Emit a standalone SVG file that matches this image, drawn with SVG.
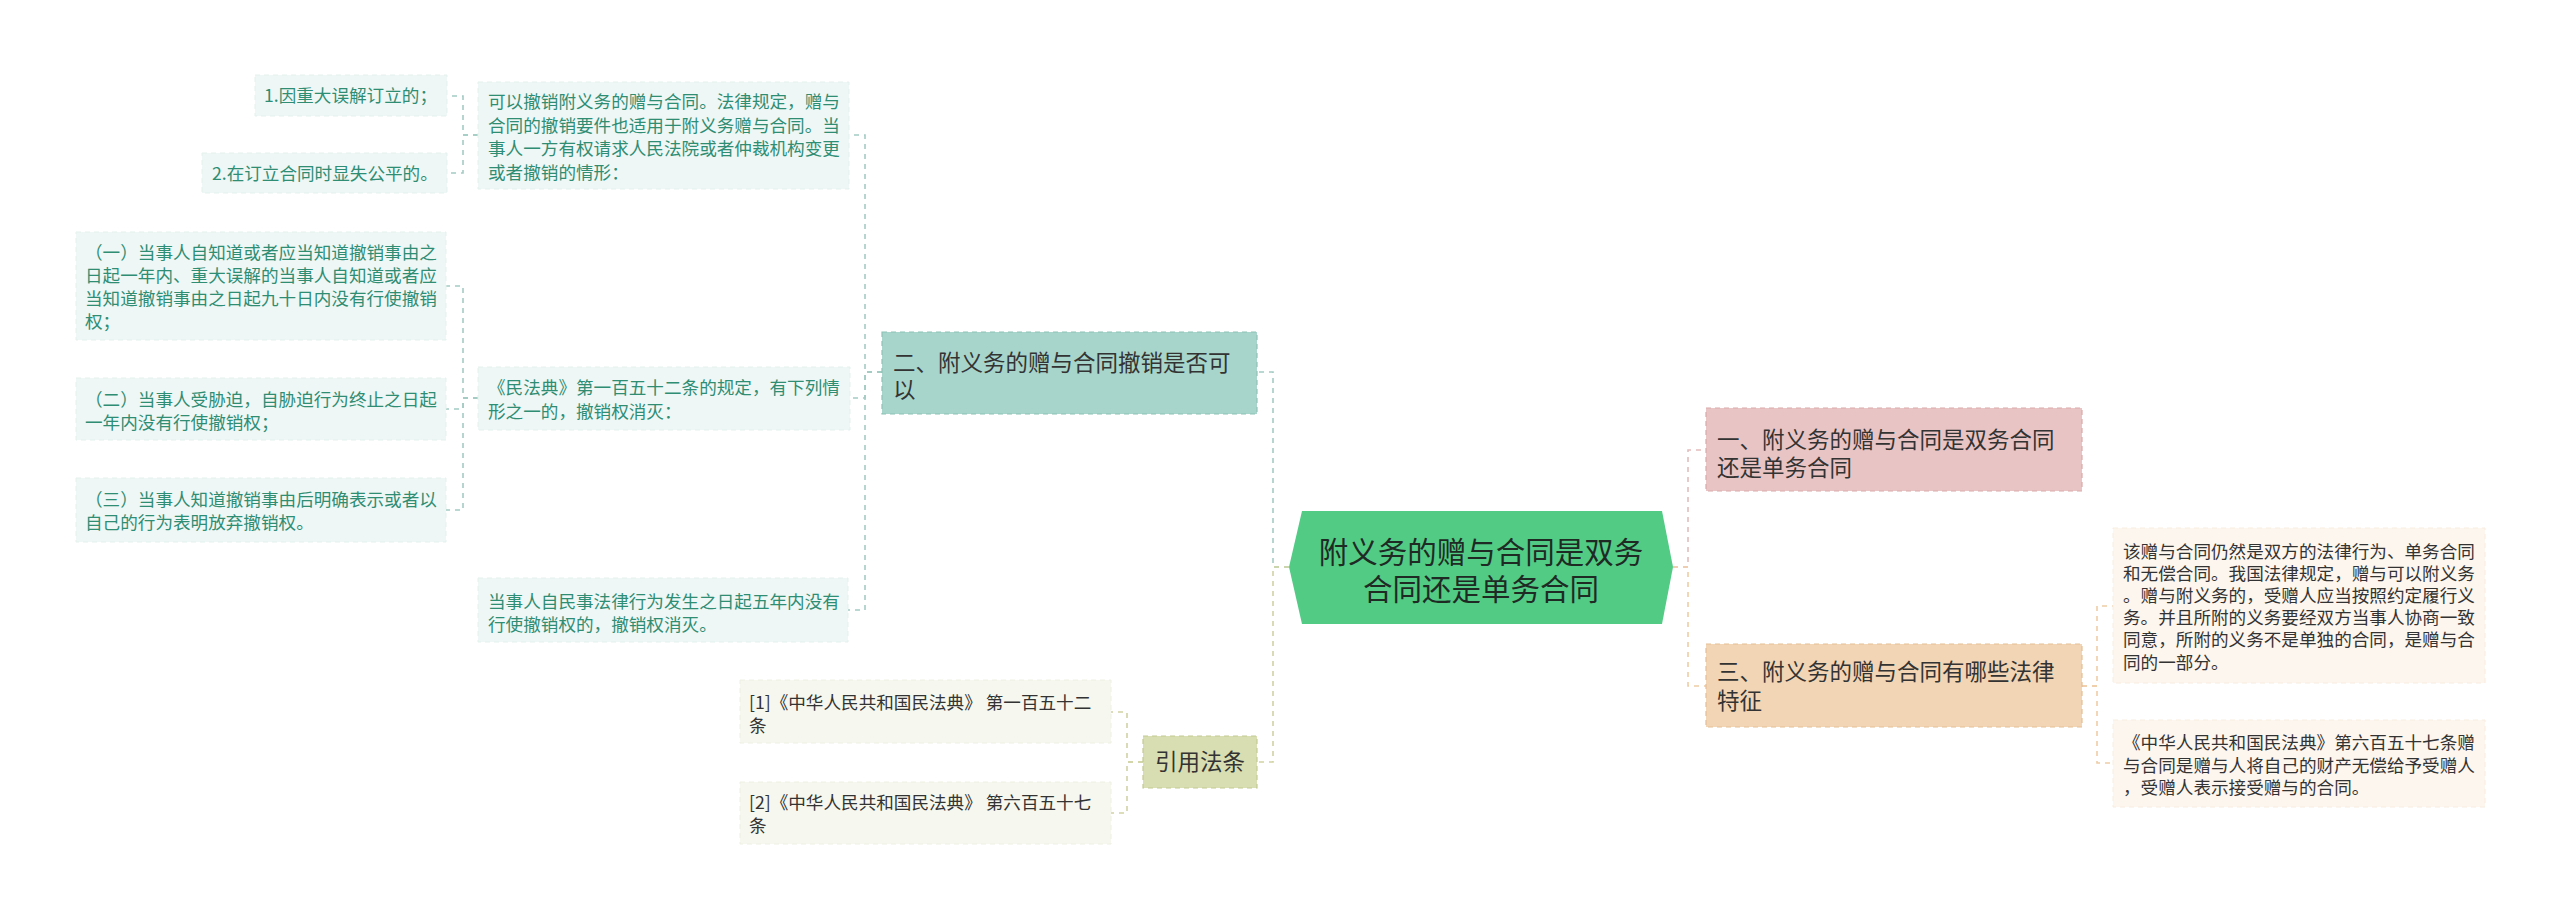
<svg xmlns="http://www.w3.org/2000/svg" width="2560" height="920" viewBox="0 0 2560 920">
<style>
text{font-family:"Noto Sans CJK SC","Noto Sans",sans-serif;}
.c{font-size:17.6px;}
.tc{fill:#2f8d73;}
.dk{fill:#333333;}
.l1{font-size:22.5px;fill:#333333;}
.conn{fill:none;stroke-width:1.6;stroke-dasharray:5 5;}
.teal{stroke:#a3cbc2;}
.kh{stroke:#cfd3a3;}
.pk{stroke:#e3bcbc;}
.or{stroke:#efcda6;}
</style>
<rect width="2560" height="920" fill="#ffffff"/>
<g id="connectors">
<path class="conn teal" d="M1289,567 H1273 V372 H1257"/>
<path class="conn teal" d="M882,372 H865 V135 H849"/>
<path class="conn teal" d="M882,372 H865 V398 H850"/>
<path class="conn teal" d="M882,372 H865 V610 H848"/>
<path class="conn teal" d="M478,135 H463 V96 H447"/>
<path class="conn teal" d="M478,135 H463 V173 H447"/>
<path class="conn teal" d="M478,398 H463 V286 H446"/>
<path class="conn teal" d="M478,398 H463 V409 H446"/>
<path class="conn teal" d="M478,398 H463 V510 H446"/>
<path class="conn kh" d="M1289,567 H1273 V762 H1257"/>
<path class="conn kh" d="M1143,762 H1127 V712 H1111"/>
<path class="conn kh" d="M1143,762 H1127 V813 H1111"/>
<path class="conn pk" d="M1673,567 H1688 V450 H1706"/>
<path class="conn or" d="M1673,567 H1688 V686 H1706"/>
<path class="conn or" d="M2082,686 H2097 V606 H2113"/>
<path class="conn or" d="M2082,686 H2097 V763 H2113"/>
</g>
<g id="center">
<polygon points="1289,567 1302,511 1662,511 1673,567 1662,624 1302,624" fill="#52cb85"/>
<text x="1481" y="563" text-anchor="middle" font-size="29.5" fill="#1f2a24">附义务的赠与合同是双务</text>
<text x="1481" y="600" text-anchor="middle" font-size="29.5" fill="#1f2a24">合同还是单务合同</text>
</g>
<g id="n-er">
<rect x="882" y="332" width="375" height="82" fill="#a7d5cc" stroke="#8dc2b6" stroke-width="1.2" stroke-dasharray="5 4"/>
<text class="l1" x="893" y="371">二、附义务的赠与合同撤销是否可</text>
<text class="l1" x="893" y="398">以</text>
</g>
<g id="n-c1">
<rect x="478" y="82" width="371" height="107" fill="#eef7f5" stroke="#e3f1ed" stroke-dasharray="5 4"/>
<text class="c tc" x="488" y="108">可以撤销附义务的赠与合同。法律规定，赠与</text>
<text class="c tc" x="488" y="131.5">合同的撤销要件也适用于附义务赠与合同。当</text>
<text class="c tc" x="488" y="155">事人一方有权请求人民法院或者仲裁机构变更</text>
<text class="c tc" x="488" y="178.5">或者撤销的情形：</text>
</g>
<g id="n-a1">
<rect x="255" y="75" width="192" height="41" fill="#eef7f5" stroke="#e3f1ed" stroke-dasharray="5 4"/>
<text class="c tc" x="264" y="102">1.因重大误解订立的；</text>
</g>
<g id="n-a2">
<rect x="202" y="153" width="245" height="40" fill="#eef7f5" stroke="#e3f1ed" stroke-dasharray="5 4"/>
<text class="c tc" x="212" y="180">2.在订立合同时显失公平的。</text>
</g>
<g id="n-c2">
<rect x="478" y="367" width="372" height="63" fill="#eef7f5" stroke="#e3f1ed" stroke-dasharray="5 4"/>
<text class="c tc" x="488" y="394">《民法典》第一百五十二条的规定，有下列情</text>
<text class="c tc" x="488" y="418">形之一的，撤销权消灭：</text>
</g>
<g id="n-b1">
<rect x="76" y="232" width="370" height="108" fill="#eef7f5" stroke="#e3f1ed" stroke-dasharray="5 4"/>
<text class="c tc" x="85" y="259">（一）当事人自知道或者应当知道撤销事由之</text>
<text class="c tc" x="85" y="282">日起一年内、重大误解的当事人自知道或者应</text>
<text class="c tc" x="85" y="305">当知道撤销事由之日起九十日内没有行使撤销</text>
<text class="c tc" x="85" y="328">权；</text>
</g>
<g id="n-b2">
<rect x="76" y="378" width="370" height="62" fill="#eef7f5" stroke="#e3f1ed" stroke-dasharray="5 4"/>
<text class="c tc" x="85" y="406">（二）当事人受胁迫，自胁迫行为终止之日起</text>
<text class="c tc" x="85" y="429">一年内没有行使撤销权；</text>
</g>
<g id="n-b3">
<rect x="76" y="478" width="370" height="64" fill="#eef7f5" stroke="#e3f1ed" stroke-dasharray="5 4"/>
<text class="c tc" x="85" y="506">（三）当事人知道撤销事由后明确表示或者以</text>
<text class="c tc" x="85" y="529">自己的行为表明放弃撤销权。</text>
</g>
<g id="n-c3">
<rect x="478" y="578" width="370" height="64" fill="#eef7f5" stroke="#e3f1ed" stroke-dasharray="5 4"/>
<text class="c tc" x="488" y="608">当事人自民事法律行为发生之日起五年内没有</text>
<text class="c tc" x="488" y="631">行使撤销权的，撤销权消灭。</text>
</g>
<g id="n-yy">
<rect x="1143" y="736" width="114" height="52" fill="#d8deb1" stroke="#c3ca92" stroke-width="1.2" stroke-dasharray="5 4"/>
<text class="l1" x="1200" y="770" text-anchor="middle">引用法条</text>
</g>
<g id="n-d1">
<rect x="740" y="680" width="371" height="63" fill="#f6f7ef" stroke="#eef0e2" stroke-dasharray="5 4"/>
<text class="c dk" x="749" y="709">[1]《中华人民共和国民法典》 第一百五十二</text>
<text class="c dk" x="749" y="732">条</text>
</g>
<g id="n-d2">
<rect x="740" y="782" width="371" height="62" fill="#f6f7ef" stroke="#eef0e2" stroke-dasharray="5 4"/>
<text class="c dk" x="749" y="809">[2]《中华人民共和国民法典》 第六百五十七</text>
<text class="c dk" x="749" y="832">条</text>
</g>
<g id="n-yi">
<rect x="1706" y="408" width="376" height="83" fill="#e8c4c4" stroke="#d9a9a9" stroke-width="1.2" stroke-dasharray="5 4"/>
<text class="l1" x="1717" y="448">一、附义务的赠与合同是双务合同</text>
<text class="l1" x="1717" y="476">还是单务合同</text>
</g>
<g id="n-san">
<rect x="1706" y="644" width="376" height="83" fill="#f2d5b5" stroke="#e5bf96" stroke-width="1.2" stroke-dasharray="5 4"/>
<text class="l1" x="1717" y="680">三、附义务的赠与合同有哪些法律</text>
<text class="l1" x="1717" y="709">特征</text>
</g>
<g id="n-e1">
<rect x="2113" y="528" width="372" height="155" fill="#fdf6ee" stroke="#f8ece0" stroke-dasharray="5 4"/>
<text class="c dk" x="2123" y="558">该赠与合同仍然是双方的法律行为、单务合同</text>
<text class="c dk" x="2123" y="580">和无偿合同。我国法律规定，赠与可以附义务</text>
<text class="c dk" x="2123" y="602">。赠与附义务的，受赠人应当按照约定履行义</text>
<text class="c dk" x="2123" y="624">务。并且所附的义务要经双方当事人协商一致</text>
<text class="c dk" x="2123" y="646">同意，所附的义务不是单独的合同，是赠与合</text>
<text class="c dk" x="2123" y="669">同的一部分。</text>
</g>
<g id="n-e2">
<rect x="2113" y="720" width="372" height="87" fill="#fdf6ee" stroke="#f8ece0" stroke-dasharray="5 4"/>
<text class="c dk" x="2123" y="749">《中华人民共和国民法典》第六百五十七条赠</text>
<text class="c dk" x="2123" y="772">与合同是赠与人将自己的财产无偿给予受赠人</text>
<text class="c dk" x="2123" y="794">，受赠人表示接受赠与的合同。</text>
</g>
</svg>
